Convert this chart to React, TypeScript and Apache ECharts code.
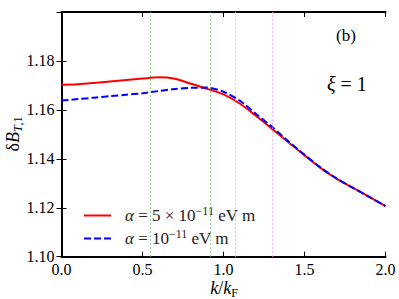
import React, { useEffect, useRef } from "react";
import * as echarts from "echarts";

const kValues = [0, 0.1, 0.2, 0.3, 0.4, 0.5, 0.6, 0.7, 0.8, 0.9, 1.0, 1.1, 1.2, 1.3, 1.4, 1.5, 1.6, 1.7, 1.8, 1.9, 2.0];
const redValues = [1.1703, 1.1705, 1.1710, 1.1716, 1.1722, 1.1728, 1.1733, 1.1727, 1.1707, 1.1686, 1.1663, 1.1626, 1.1576, 1.1522, 1.1468, 1.1414, 1.1362, 1.1318, 1.1281, 1.1244, 1.1207];
const blueValues = [1.1638, 1.1644, 1.1650, 1.1656, 1.1662, 1.1668, 1.1677, 1.1685, 1.1690, 1.1691, 1.1674, 1.1638, 1.1584, 1.1530, 1.1472, 1.1417, 1.1364, 1.1319, 1.1281, 1.1244, 1.1207];
const greenLines = [0.551, 0.922];
const pinkLines = [1.071, 1.30];

const FONT = "Liberation Serif";

export default function App() {
  const ref = useRef<HTMLDivElement>(null);
  useEffect(() => {
    if (!ref.current) return;
    const chart = echarts.init(ref.current, undefined, { renderer: "svg" });
    const grid = { left: 61.5, right: 13.5, top: 12, bottom: 42.3, containLabel: false, outerBoundsMode: "none" };
    const axisLine = { show: true, lineStyle: { color: "#000", width: 2 } };
    const tickStyle = { show: true, inside: true, length: 5, lineStyle: { color: "#000", width: 1 } };
    const titleRich = {
      i: { fontFamily: FONT, fontStyle: "italic", fontSize: 18, fill: "#000" },
      n: { fontFamily: FONT, fontSize: 18, fill: "#000" },
      sub: { fontFamily: FONT, fontStyle: "italic", fontSize: 12, fill: "#000", padding: [9, 0, 0, 0] },
      subr: { fontFamily: FONT, fontSize: 12, fill: "#000", padding: [9, 0, 0, 0] },
    };
    const legendRich = {
      i: { fontFamily: FONT, fontStyle: "italic", fontSize: 17, color: "#222" },
      n: { fontFamily: FONT, fontSize: 17, color: "#222" },
      sup: { fontFamily: FONT, fontSize: 12, color: "#222", padding: [0, 0, 9, 0] },
    };
    const option: any = {
      animation: false,
      backgroundColor: "#fff",
      textStyle: { fontFamily: FONT },
      grid,
      xAxis: [
        {
          type: "value",
          min: 0,
          max: 2,
          interval: 0.5,
          axisLine,
          axisTick: tickStyle,
          splitLine: { show: false },
          axisLabel: {
            fontFamily: FONT,
            fontSize: 16,
            color: "#000",
            margin: 5,
            formatter: (v: number) => v.toFixed(1),
          },
        },
        {
          type: "value",
          position: "top",
          min: 0,
          max: 2,
          interval: 0.5,
          axisLine,
          axisTick: tickStyle,
          splitLine: { show: false },
          axisLabel: { show: false },
        },
      ],
      yAxis: [
        {
          type: "value",
          min: 1.1,
          max: 1.2,
          interval: 0.02,
          axisLine,
          axisTick: tickStyle,
          splitLine: { show: false },
          axisLabel: {
            fontFamily: FONT,
            fontSize: 16,
            color: "#000",
            margin: 7,
            showMaxLabel: false,
            formatter: (v: number) => (Math.abs(v - 1.2) < 1e-6 ? "" : v.toFixed(2)),
          },
        },
        {
          type: "value",
          position: "right",
          min: 1.1,
          max: 1.2,
          interval: 0.02,
          axisLine,
          axisTick: tickStyle,
          splitLine: { show: false },
          axisLabel: { show: false },
        },
      ],
      legend: {
        show: true,
        orient: "vertical",
        left: 78,
        top: 200,
        itemWidth: 27,
        itemHeight: 10,
        itemGap: 4,
        selectedMode: false,
        itemStyle: { opacity: 0, borderWidth: 0 },
        textStyle: { fontFamily: FONT, rich: legendRich, padding: [0, 0, 0, 9] },
        data: ["red", "blue"],
        formatter: (name: string) =>
          name === "red"
            ? "{i|α}{n| = 5 × 10}{sup|−11}{n| eV m}"
            : "{i|α}{n| = 10}{sup|−11}{n| eV m}",
      },
      series: [
        {
          name: "red",
          type: "line",
          data: kValues.map((k, i) => [k, redValues[i]]),
          smooth: 0.3,
          symbol: "none",
          showSymbol: false,
          lineStyle: { color: "#ff0000", width: 2 },
          itemStyle: { color: "#ff0000" },
          z: 3,
          markLine: {
            silent: true,
            symbol: "none",
            label: { show: false },
            lineStyle: { color: "#66bb66", type: [1.3, 2.7], width: 1.2 },
            data: greenLines.map((x) => ({ xAxis: x })),
          },
        },
        {
          name: "blue",
          type: "line",
          data: kValues.map((k, i) => [k, blueValues[i]]),
          smooth: 0.3,
          symbol: "none",
          showSymbol: false,
          lineStyle: { color: "#0000ff", width: 2, type: [7, 3] },
          itemStyle: { color: "#0000ff" },
          z: 4,
          markLine: {
            silent: true,
            symbol: "none",
            label: { show: false },
            lineStyle: { color: "#ee99ee", type: [1.3, 2.7], width: 1.2 },
            data: pinkLines.map((x) => ({ xAxis: x })),
          },
        },
      ],
      graphic: [
        {
          type: "text",
          x: 224,
          y: 288,
          style: {
            text: "{i|k}{n|/}{i|k}{subr|F}",
            rich: titleRich,
            align: "center",
            verticalAlign: "middle",
          },
        },
        {
          type: "text",
          x: 13,
          y: 134,
          rotation: Math.PI / 2,
          style: {
            text: "{n|δ}{i|B}{sub|T}{subr|,1}",
            rich: titleRich,
            align: "center",
            verticalAlign: "middle",
          },
        },
        {
          type: "text",
          left: 336,
          top: 27,
          style: { text: "(b)", fontFamily: FONT, fontSize: 17, fill: "#000" },
        },
        {
          type: "text",
          left: 327,
          top: 74,
          style: {
            text: "{i|ξ}{n| = 1}",
            rich: {
              i: { fontFamily: FONT, fontStyle: "italic", fontSize: 20, fill: "#000" },
              n: { fontFamily: FONT, fontSize: 20, fill: "#000" },
            },
          },
        },
      ],
    };
    chart.setOption(option);
    return () => chart.dispose();
  }, []);
  return (
    <div
      ref={ref}
      style={{ position: "absolute", left: 0, top: 0, width: 399, height: 299 }}
    />
  );
}
